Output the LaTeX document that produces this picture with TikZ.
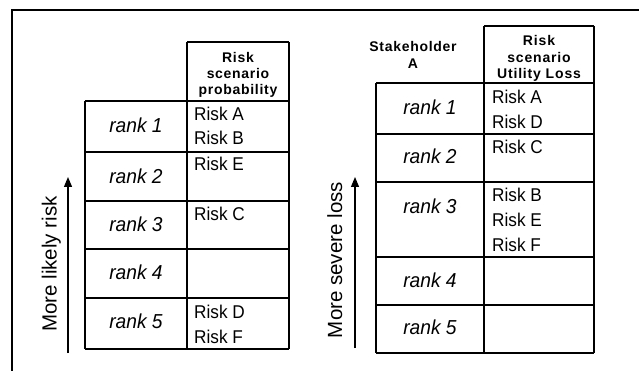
\documentclass[tikz,border=0pt]{standalone}
\usepackage{fontspec}
\setmainfont{Liberation Sans}
\newfontfamily\hdrfont[LetterSpace=5]{Liberation Sans}
\newfontfamily\hdrwfont[LetterSpace=6]{Liberation Sans}
\newfontfamily\riskfont[FakeStretch=0.93]{Liberation Sans}
\newfontfamily\rankfont[FakeStretch=0.95]{Liberation Sans}
\usetikzlibrary{arrows.meta}
\begin{document}
\begin{tikzpicture}[x=1pt,y=-1pt,
  tbl/.style={line width=1.3pt},
  framestyle/.style={line width=1.6pt},
  risk/.style={anchor=base west, inner sep=0pt, font=\riskfont\fontsize{18.5}{24}\selectfont},
  rank/.style={inner sep=0pt, font=\rankfont\fontsize{20.2}{24}\selectfont\itshape},
  hdr/.style={align=center, inner sep=0pt, font=\hdrfont\fontsize{14}{16.3}\selectfont\bfseries},
  hdrw/.style={align=center, inner sep=0pt, font=\hdrwfont\fontsize{14}{16.7}\selectfont\bfseries},
  axislabel/.style={rotate=90, anchor=base, inner sep=0pt, font=\fontsize{20.5}{24}\selectfont},
  arr/.style={line width=1.2pt, -{Triangle[length=10pt,width=8pt]}}]
\useasboundingbox (0,0) rectangle (639,371);
% frame
\draw[framestyle] (12,371) -- (12,10) -- (639,10);

% ---------- left table ----------
\draw[tbl] (187,42) -- (289,42);
\foreach \yy in {101,152,201,249,298,349} \draw[tbl] (85,\yy) -- (289,\yy);
\draw[tbl] (85,101) -- (85,349);
\draw[tbl] (187,42) -- (187,349);
\draw[tbl] (289,42) -- (289,349);

\node[hdr] (lhdr) at (238,75) {Risk\\scenario\\probability};

\node[rank] (lr1) at (136,125.5) {rank 1};
\node[rank] (lr2) at (136,176) {rank 2};
\node[rank] (lr3) at (136,224) {rank 3};
\node[rank] (lr4) at (136,272.5) {rank 4};
\node[rank] (lr5) at (136,321.5) {rank 5};

\node[risk] (lA) at (194,120.7) {Risk A};
\node[risk] (lB) at (194,144.7) {Risk B};
\node[risk] (lE) at (194,170.5) {Risk E};
\node[risk] (lC) at (194,220.3) {Risk C};
\node[risk] (lD) at (194,318.2) {Risk D};
\node[risk] (lF) at (194,343.2) {Risk F};

\coordinate (la0) at (68,353);
\coordinate (la1) at (68,177);
\draw[arr] (la0) -- (la1);
\node[axislabel] (lax) at (56.5,264) {More likely risk};

% ---------- right table ----------
\draw[tbl] (484,26) -- (594,26);
\foreach \yy in {83,134,182,257,305,353} \draw[tbl] (376,\yy) -- (594,\yy);
\draw[tbl] (376,83) -- (376,353);
\draw[tbl] (484,26) -- (484,353);
\draw[tbl] (594,26) -- (594,353);

\node[hdrw] (rhdr) at (539,58.5) {Risk\\scenario\\Utility Loss};
\node[hdr] (stk) at (413,55) {Stakeholder\\A};

\node[rank] (rr1) at (430,107) {rank 1};
\node[rank] (rr2) at (430,156) {rank 2};
\node[rank] (rr3) at (430,206) {rank 3};
\node[rank] (rr4) at (430,280.5) {rank 4};
\node[rank] (rr5) at (430,327.5) {rank 5};

\node[risk] (rA) at (492,103.2) {Risk A};
\node[risk] (rD) at (492,128.2) {Risk D};
\node[risk] (rC) at (492,153.2) {Risk C};
\node[risk] (rB) at (492,201.7) {Risk B};
\node[risk] (rE) at (492,226.7) {Risk E};
\node[risk] (rF) at (492,251.7) {Risk F};

\coordinate (ra0) at (355,348);
\coordinate (ra1) at (355,177);
\draw[arr] (ra0) -- (ra1);
\node[axislabel] (rax) at (342,260) {More severe loss};
\end{tikzpicture}
\end{document}
